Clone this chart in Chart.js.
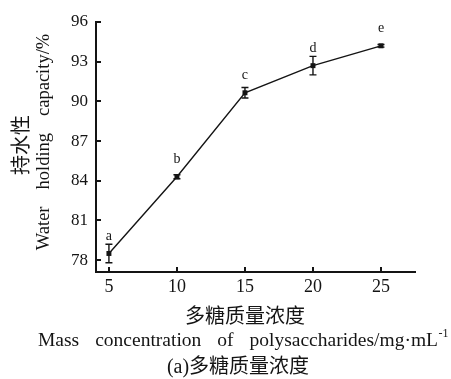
<!DOCTYPE html>
<html>
<head>
<meta charset="utf-8">
<script src="https://cdn.jsdelivr.net/npm/chart.js@4/dist/chart.umd.min.js"></script>
<style>
  html, body { margin: 0; padding: 0; background: #fff; }
  canvas { display: block; }
</style>
</head>
<body>
<canvas id="c" width="451" height="379"></canvas>
<script>
// Polysaccharide concentration (mg/mL) and water holding capacity (%)
const concentration = [5, 10, 15, 20, 25];
const holding = [78.5, 84.3, 90.65, 92.7, 94.2];
const holdingSD = [0.7, 0.15, 0.4, 0.7, 0.1];
const groupLetters = ['a', 'b', 'c', 'd', 'e'];

const xTicks = [5, 10, 15, 20, 25];
const yTicks = [78, 81, 84, 87, 90, 93, 96];

const yTitleCN = '持水性';
const yTitleEN = 'Water holding capacity/%';
const xTitleCN = '多糖质量浓度';
const xTitleEN = 'Mass concentration of polysaccharides/mg\u00b7mL';
const xTitleSup = '-1';
const caption = '(a)多糖质量浓度';

const INK = '#141414';
const SERIF = '"Liberation Serif", "Times New Roman", serif';
const CJK = '"Noto Sans CJK SC", sans-serif';

// text with widened gaps between words; returns total width
function spacedWidth(ctx, text, gap) {
  const words = text.split(' ');
  let w = 0;
  words.forEach((wd, i) => { w += ctx.measureText(wd).width + (i ? gap : 0); });
  return w;
}
function drawSpaced(ctx, text, x, y, gap) {
  const words = text.split(' ');
  let cx = x;
  words.forEach(wd => {
    ctx.fillText(wd, cx, y);
    cx += ctx.measureText(wd).width + gap;
  });
}

// error bars and significance letters
const errorBars = {
  id: 'errorBars',
  afterDatasetsDraw(chart) {
    const { ctx, scales: { x, y } } = chart;
    ctx.save();
    ctx.strokeStyle = INK;
    ctx.lineWidth = 1.4;
    concentration.forEach((c, i) => {
      const px = x.getPixelForValue(c);
      const top = y.getPixelForValue(holding[i] + holdingSD[i]);
      const bot = y.getPixelForValue(holding[i] - holdingSD[i]);
      ctx.beginPath();
      ctx.moveTo(px, top); ctx.lineTo(px, bot);
      ctx.moveTo(px - 3.5, top); ctx.lineTo(px + 3.5, top);
      ctx.moveTo(px - 3.5, bot); ctx.lineTo(px + 3.5, bot);
      ctx.stroke();
    });
    ctx.fillStyle = INK;
    ctx.font = '14px ' + SERIF;
    ctx.textAlign = 'center';
    ctx.textBaseline = 'middle';
    concentration.forEach((c, i) => {
      ctx.fillText(groupLetters[i], x.getPixelForValue(c), y.getPixelForValue(holding[i]) - 17);
    });
    ctx.restore();
  }
};

// inward tick marks and the axis titles
const axisDecor = {
  id: 'axisDecor',
  afterDraw(chart) {
    const { ctx, chartArea: a, scales: { x, y } } = chart;
    ctx.save();
    ctx.strokeStyle = INK;
    ctx.lineWidth = 2;
    ctx.beginPath();
    xTicks.forEach(v => {
      const px = Math.round(x.getPixelForValue(v));
      ctx.moveTo(px, a.bottom); ctx.lineTo(px, a.bottom - 5);
    });
    yTicks.forEach(v => {
      const py = Math.round(y.getPixelForValue(v));
      ctx.moveTo(a.left, py); ctx.lineTo(a.left + 5, py);
    });
    ctx.stroke();

    ctx.fillStyle = INK;
    ctx.textBaseline = 'middle';

    // y title, two rotated lines
    ctx.save();
    ctx.translate(20, 145);
    ctx.rotate(-Math.PI / 2);
    ctx.textAlign = 'center';
    ctx.font = '20px ' + CJK;
    ctx.fillText(yTitleCN, 0, 0);
    ctx.restore();

    ctx.save();
    ctx.translate(44, 142);
    ctx.rotate(-Math.PI / 2);
    ctx.textAlign = 'left';
    ctx.font = '18.5px ' + SERIF;
    const wy = spacedWidth(ctx, yTitleEN, 17);
    drawSpaced(ctx, yTitleEN, -wy / 2, 0, 17);
    ctx.restore();

    // x title lines
    ctx.textAlign = 'center';
    ctx.font = '20px ' + CJK;
    ctx.fillText(xTitleCN, 245, 315);

    ctx.save();
    ctx.textAlign = 'left';
    ctx.font = '19.5px ' + SERIF;
    const wMain = spacedWidth(ctx, xTitleEN, 16);
    ctx.font = '12px ' + SERIF;
    const wSup = ctx.measureText(xTitleSup).width;
    const x0 = 243 - (wMain + wSup) / 2;
    ctx.font = '19.5px ' + SERIF;
    drawSpaced(ctx, xTitleEN, x0, 341, 16);
    ctx.font = '12px ' + SERIF;
    ctx.fillText(xTitleSup, x0 + wMain + 0.5, 334);
    ctx.restore();

    ctx.textAlign = 'center';
    ctx.font = '20px "Liberation Serif", "Noto Sans CJK SC", serif';
    ctx.fillText(caption, 238, 368);
    ctx.restore();
  }
};

new Chart(document.getElementById('c'), {
  type: 'line',
  data: {
    datasets: [{
      data: concentration.map((c, i) => ({ x: c, y: holding[i] })),
      borderColor: INK,
      borderWidth: 1.4,
      backgroundColor: INK,
      pointStyle: 'rect',
      pointRadius: 3.5,
      pointBorderWidth: 0,
      tension: 0
    }]
  },
  options: {
    responsive: false,
    animation: false,
    devicePixelRatio: 1,
    layout: { padding: { top: 22, right: 36, left: 0, bottom: 0 } },
    plugins: { legend: { display: false }, tooltip: { enabled: false } },
    scales: {
      x: {
        type: 'linear',
        min: 4.05,
        max: 27.5,
        grid: { display: false, drawTicks: false },
        border: { display: true, color: INK, width: 2 },
        afterBuildTicks: s => { s.ticks = xTicks.map(v => ({ value: v })); },
        afterFit: s => { s.height = 107; },
        ticks: {
          color: INK,
          padding: 4,
          maxRotation: 0,
          font: { family: SERIF, size: 18 }
        }
      },
      y: {
        type: 'linear',
        min: 77.1,
        max: 96,
        grid: { display: false, drawTicks: false },
        border: { display: true, color: INK, width: 2 },
        afterBuildTicks: s => { s.ticks = yTicks.map(v => ({ value: v })); },
        afterFit: s => { s.width = 96; },
        ticks: {
          color: INK,
          padding: 8,
          font: { family: SERIF, size: 17 }
        }
      }
    }
  },
  plugins: [errorBars, axisDecor]
});
</script>
</body>
</html>
